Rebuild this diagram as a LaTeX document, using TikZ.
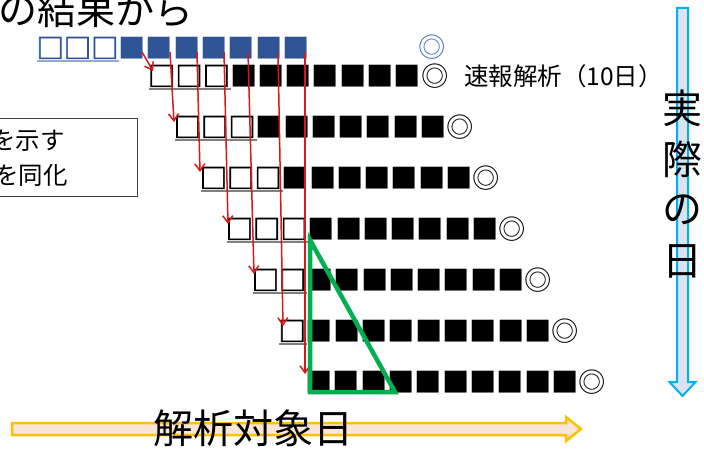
\documentclass[tikz,border=0pt]{standalone}
\usepackage{fontspec}
\newfontfamily\jp{Noto Sans CJK JP}
\newfontfamily\jpsq[FakeBold=2.5]{Noto Sans CJK JP}
\usetikzlibrary{arrows.meta}
\definecolor{sqblue}{RGB}{47,85,151}
\definecolor{ringblue}{RGB}{68,114,196}
\definecolor{ulblue}{RGB}{143,170,220}
\definecolor{ulgray}{RGB}{128,128,128}
\definecolor{arrred}{RGB}{215,25,25}
\definecolor{trigreen}{RGB}{0,176,80}
\definecolor{cyanline}{RGB}{0,176,240}
\definecolor{cyanfill}{RGB}{218,227,243}
\definecolor{orline}{RGB}{255,192,0}
\definecolor{orfill}{RGB}{251,229,214}
\newcommand{\hollow}[1]{{\jpsq\fontsize{27.3bp}{27.3bp}\selectfont #1}}
\begin{document}
\begin{tikzpicture}[x=1bp,y=-1bp,
  rowtext/.style={font=\jp\fontsize{27.3bp}{27.3bp}\selectfont, inner sep=0pt, anchor=west, text height=24bp, text depth=3.3bp},
  jptext/.style={font=\jp\fontsize{#1}{#1}\selectfont, inner sep=0pt, anchor=west},
  ctext/.style={font=\jp\fontsize{#1}{#1}\selectfont, inner sep=0pt},
  uline/.style={ulgray, line width=1.5bp},
  redarrow/.style={arrred, line width=1.5bp, -{Straight Barb[length=7bp,width=10bp]}},
  memobox/.style={draw=black!75, line width=0.9bp, inner sep=0pt}
]
\useasboundingbox (0,0) rectangle (704,450);
\clip (0,0) rectangle (704,450);

% top text (cut off at the edge, as in the reference)
\node[jptext=39bp] (toptext) at (-2,10) {の結果から};

% memo box
\draw[memobox] (-5,118) rectangle (137,196);
\node[jptext=24.5bp] (memo1) at (-9,141) {を示す};
\node[jptext=24.5bp] (memo2) at (-6,175) {を同化};

% row 0 (blue)
\node[rowtext, text=sqblue] (r0) at (36.4,48) {\hollow{□□□}■■■■■■■};
\draw[ulblue, line width=1.5bp] (37.4,61) -- (119.3,61);
\node[rowtext, text=ringblue] (b0) at (418.4,47) {◎};

% rows 1..7
\node[rowtext] (r1) at (147.9,76) {\hollow{□□□}■■■■■■■◎};
\draw[uline] (149,89) -- (230.8,89);
\node[rowtext] (r2) at (173.6,127) {\hollow{□□□}■■■■■■■◎};
\draw[uline] (174.6,140) -- (256.5,140);
\node[rowtext] (r3) at (199.6,178) {\hollow{□□□}■■■■■■■◎};
\draw[uline] (200.6,191) -- (282.5,191);
\node[rowtext] (r4) at (225.6,229) {\hollow{□□□}■■■■■■■◎};
\draw[uline] (226.6,242) -- (308.5,242);
\node[rowtext] (r5) at (251.6,280) {\hollow{□□}■■■■■■■■◎};
\draw[uline] (252.6,293) -- (307.2,293);
\node[rowtext] (r6) at (278.4,331) {\hollow{□}■■■■■■■■■◎};
\draw[uline] (279.4,344) -- (306.7,344);
\node[rowtext] (r7) at (305.4,382) {■■■■■■■■■■◎};

% label
\node[jptext=24.5bp] (sokuho) at (464,76) {速報解析（10日）};

% red arrows
\coordinate (a1s) at (142,52); \coordinate (a1e) at (153,71);
\coordinate (a2s) at (170,52); \coordinate (a2e) at (174,122);
\coordinate (a3s) at (197,52); \coordinate (a3e) at (200,172);
\coordinate (a4s) at (224,52); \coordinate (a4e) at (228,224);
\coordinate (a5s) at (248,52); \coordinate (a5e) at (254,274);
\coordinate (a6s) at (278,52); \coordinate (a6e) at (283,326);
\coordinate (a7s) at (305,52); \coordinate (a7e) at (305,374);
\foreach \i in {1,...,7} {\draw[redarrow] (a\i s) -- (a\i e);}

% green triangle
\coordinate (t1) at (310,240);
\coordinate (t2) at (310,392);
\coordinate (t3) at (395,392);
\draw[trigreen, line width=4.5bp, line join=miter] (t1) -- (t2) -- (t3) -- cycle;

% vertical cyan arrow
\draw[cyanline, fill=cyanfill, line width=2bp, line join=miter]
  (677,8) -- (688,8) -- (688,382) -- (695.5,382) -- (682.5,396) -- (669.5,382) -- (677,382) -- cycle;
\node[ctext=40bp] (v1) at (682,108) {実};
\node[ctext=40bp] (v2) at (682,159) {際};
\node[ctext=40bp] (v3) at (682,210) {の};
\node[ctext=40bp] (v4) at (682,261) {日};

% horizontal orange arrow
\draw[orline, fill=orfill, line width=2.5bp, line join=miter]
  (12,423) -- (566,423) -- (566,417) -- (581,429) -- (566,441) -- (566,435) -- (12,435) -- cycle;
\node[jptext=40bp] (axis) at (153,428) {解析対象日};
\end{tikzpicture}
\end{document}
